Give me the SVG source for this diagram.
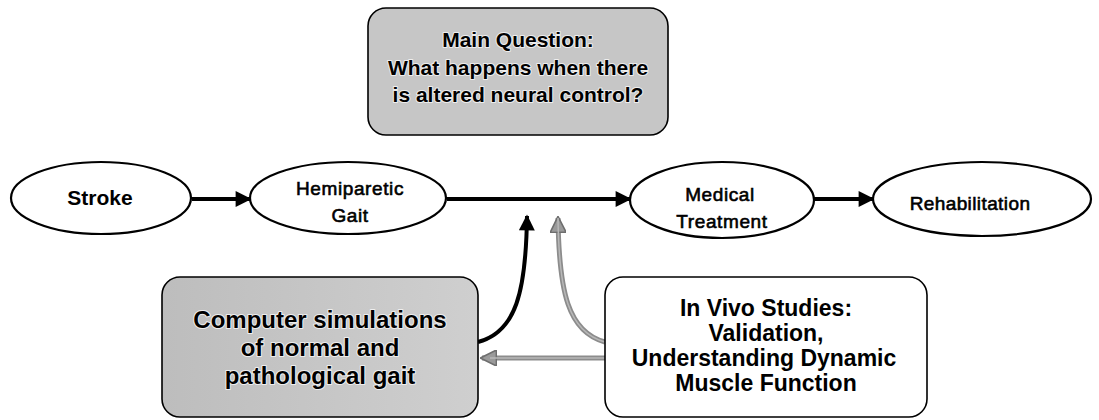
<svg xmlns="http://www.w3.org/2000/svg" width="1099" height="420" viewBox="0 0 1099 420">
<style>
.ell{fill:#fff;stroke:#000;stroke-width:2.2}
.box{stroke:#000;stroke-width:1.6}
.gray{fill:#c6c6c6}
.t{font-family:"Liberation Sans",Arial,sans-serif;fill:#000;text-anchor:middle}
.b{font-weight:bold}
.m{stroke:#000;stroke-width:0.6}
.halo{paint-order:stroke;stroke:#eee;stroke-width:2;stroke-linejoin:round}
.blk{fill:none;stroke:#000;stroke-width:4}
.gry{fill:none;stroke:#8c8c8c;stroke-width:5}
.gryin{fill:none;stroke:#b8b8b8;stroke-width:1.5}
</style>
<defs>
<marker id="ah" viewBox="0 0 10 10" refX="9" refY="5" markerWidth="4.2" markerHeight="4" orient="auto" markerUnits="strokeWidth">
<path d="M0,0 L10,5 L0,10 Z" fill="#000"/>
</marker>
<marker id="ahg" viewBox="0 0 10 10" refX="9" refY="5" markerWidth="3.4" markerHeight="3.2" orient="auto" markerUnits="strokeWidth">
<path d="M0,0 L10,5 L0,10 Z" fill="#9a9a9a" stroke="#6e6e6e" stroke-width="1"/>
</marker>
<linearGradient id="cg" x1="0" y1="0" x2="1" y2="0">
<stop offset="0" stop-color="#bdbdbd"/>
<stop offset="1" stop-color="#cfcfcf"/>
</linearGradient>
</defs>

<g id="connectors">
<line class="blk" x1="192" y1="199" x2="250" y2="199" marker-end="url(#ah)"/>
<line class="blk" x1="447" y1="199" x2="630" y2="199" marker-end="url(#ah)"/>
<line class="blk" x1="813" y1="199" x2="873" y2="199" marker-end="url(#ah)"/>
<path class="blk" d="M478,342 C516,332 526,292 527,216" marker-end="url(#ah)"/>
<path class="gry" d="M605,342 C568,332 559,292 558,218" marker-end="url(#ahg)"/>
<path class="gryin" d="M605,342 C568,332 559,292 558,218"/>
<line class="gry" x1="605" y1="358" x2="482" y2="358" marker-end="url(#ahg)"/>
<line class="gryin" x1="605" y1="358" x2="490" y2="358"/>
</g>

<g id="main-question">
<rect class="box gray" x="368" y="8" width="300" height="127" rx="18" ry="18" fill="#c8c8c8"/>
<text class="t b halo" font-size="21"><tspan x="518" y="47">Main Question:</tspan><tspan x="518" y="75">What happens when there</tspan><tspan x="518" y="102">is altered neural control?</tspan></text>
</g>

<g id="stroke">
<ellipse class="ell" cx="101" cy="198" rx="90" ry="36"/>
<text class="t b" font-size="21" x="100" y="205">Stroke</text>
</g>

<g id="hemiparetic-gait">
<ellipse class="ell" cx="348" cy="198" rx="98" ry="36"/>
<text class="t m" font-size="19" letter-spacing="0.6"><tspan x="350" y="195">Hemiparetic</tspan><tspan x="350" y="222">Gait</tspan></text>
</g>

<g id="medical-treatment">
<ellipse class="ell" cx="722" cy="200" rx="92" ry="38"/>
<text class="t m" font-size="19" letter-spacing="0.6"><tspan x="720" y="201">Medical</tspan><tspan x="722" y="228">Treatment</tspan></text>
</g>

<g id="rehabilitation">
<ellipse class="ell" cx="982" cy="199" rx="109" ry="37"/>
<text class="t m" font-size="19" letter-spacing="0.4" x="970" y="210">Rehabilitation</text>
</g>

<g id="computer-simulations">
<rect class="box" x="162" y="277" width="316" height="140" rx="18" ry="18" fill="url(#cg)"/>
<text class="t b halo" font-size="24"><tspan x="320" y="328">Computer simulations</tspan><tspan x="320" y="356">of normal and</tspan><tspan x="320" y="384">pathological gait</tspan></text>
</g>

<g id="in-vivo-studies">
<rect class="box" x="605" y="277" width="322" height="140" rx="18" ry="18" fill="#fff"/>
<text class="t b" font-size="23"><tspan x="766" y="316">In Vivo Studies:</tspan><tspan x="766" y="341">Validation,</tspan><tspan x="764" y="366">Understanding Dynamic</tspan><tspan x="766" y="391">Muscle Function</tspan></text>
</g>
</svg>
